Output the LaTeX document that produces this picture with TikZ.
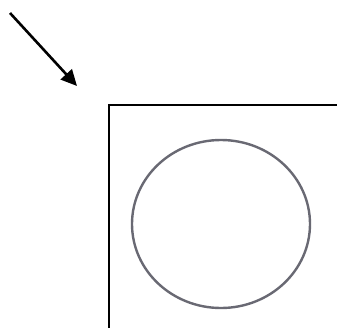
\documentclass[tikz,border=0pt]{standalone}
\usetikzlibrary{arrows.meta,shapes.geometric}
\definecolor{ringgray}{RGB}{105,105,115}
\begin{document}
\begin{tikzpicture}[x=1pt,y=-1pt,
  pointer/.style={line width=2.6pt,-{Triangle[length=16pt,width=15pt]}},
  frame/.style={line width=2.2pt,black},
  ring/.style={ellipse,draw=ringgray,line width=2.4pt,minimum width=178pt,minimum height=168pt,inner sep=0pt}]
\useasboundingbox (0,0) rectangle (337,327);
\coordinate (a0) at (10,13);
\coordinate (a1) at (77,86);
\draw[pointer] (a0) -- (a1);
\coordinate (f0) at (109,330);
\coordinate (f1) at (109,105);
\coordinate (f2) at (340,105);
\draw[frame] (f0) -- (f1) -- (f2);
\node[ring] (c) at (221,224) {};
\end{tikzpicture}
\end{document}
